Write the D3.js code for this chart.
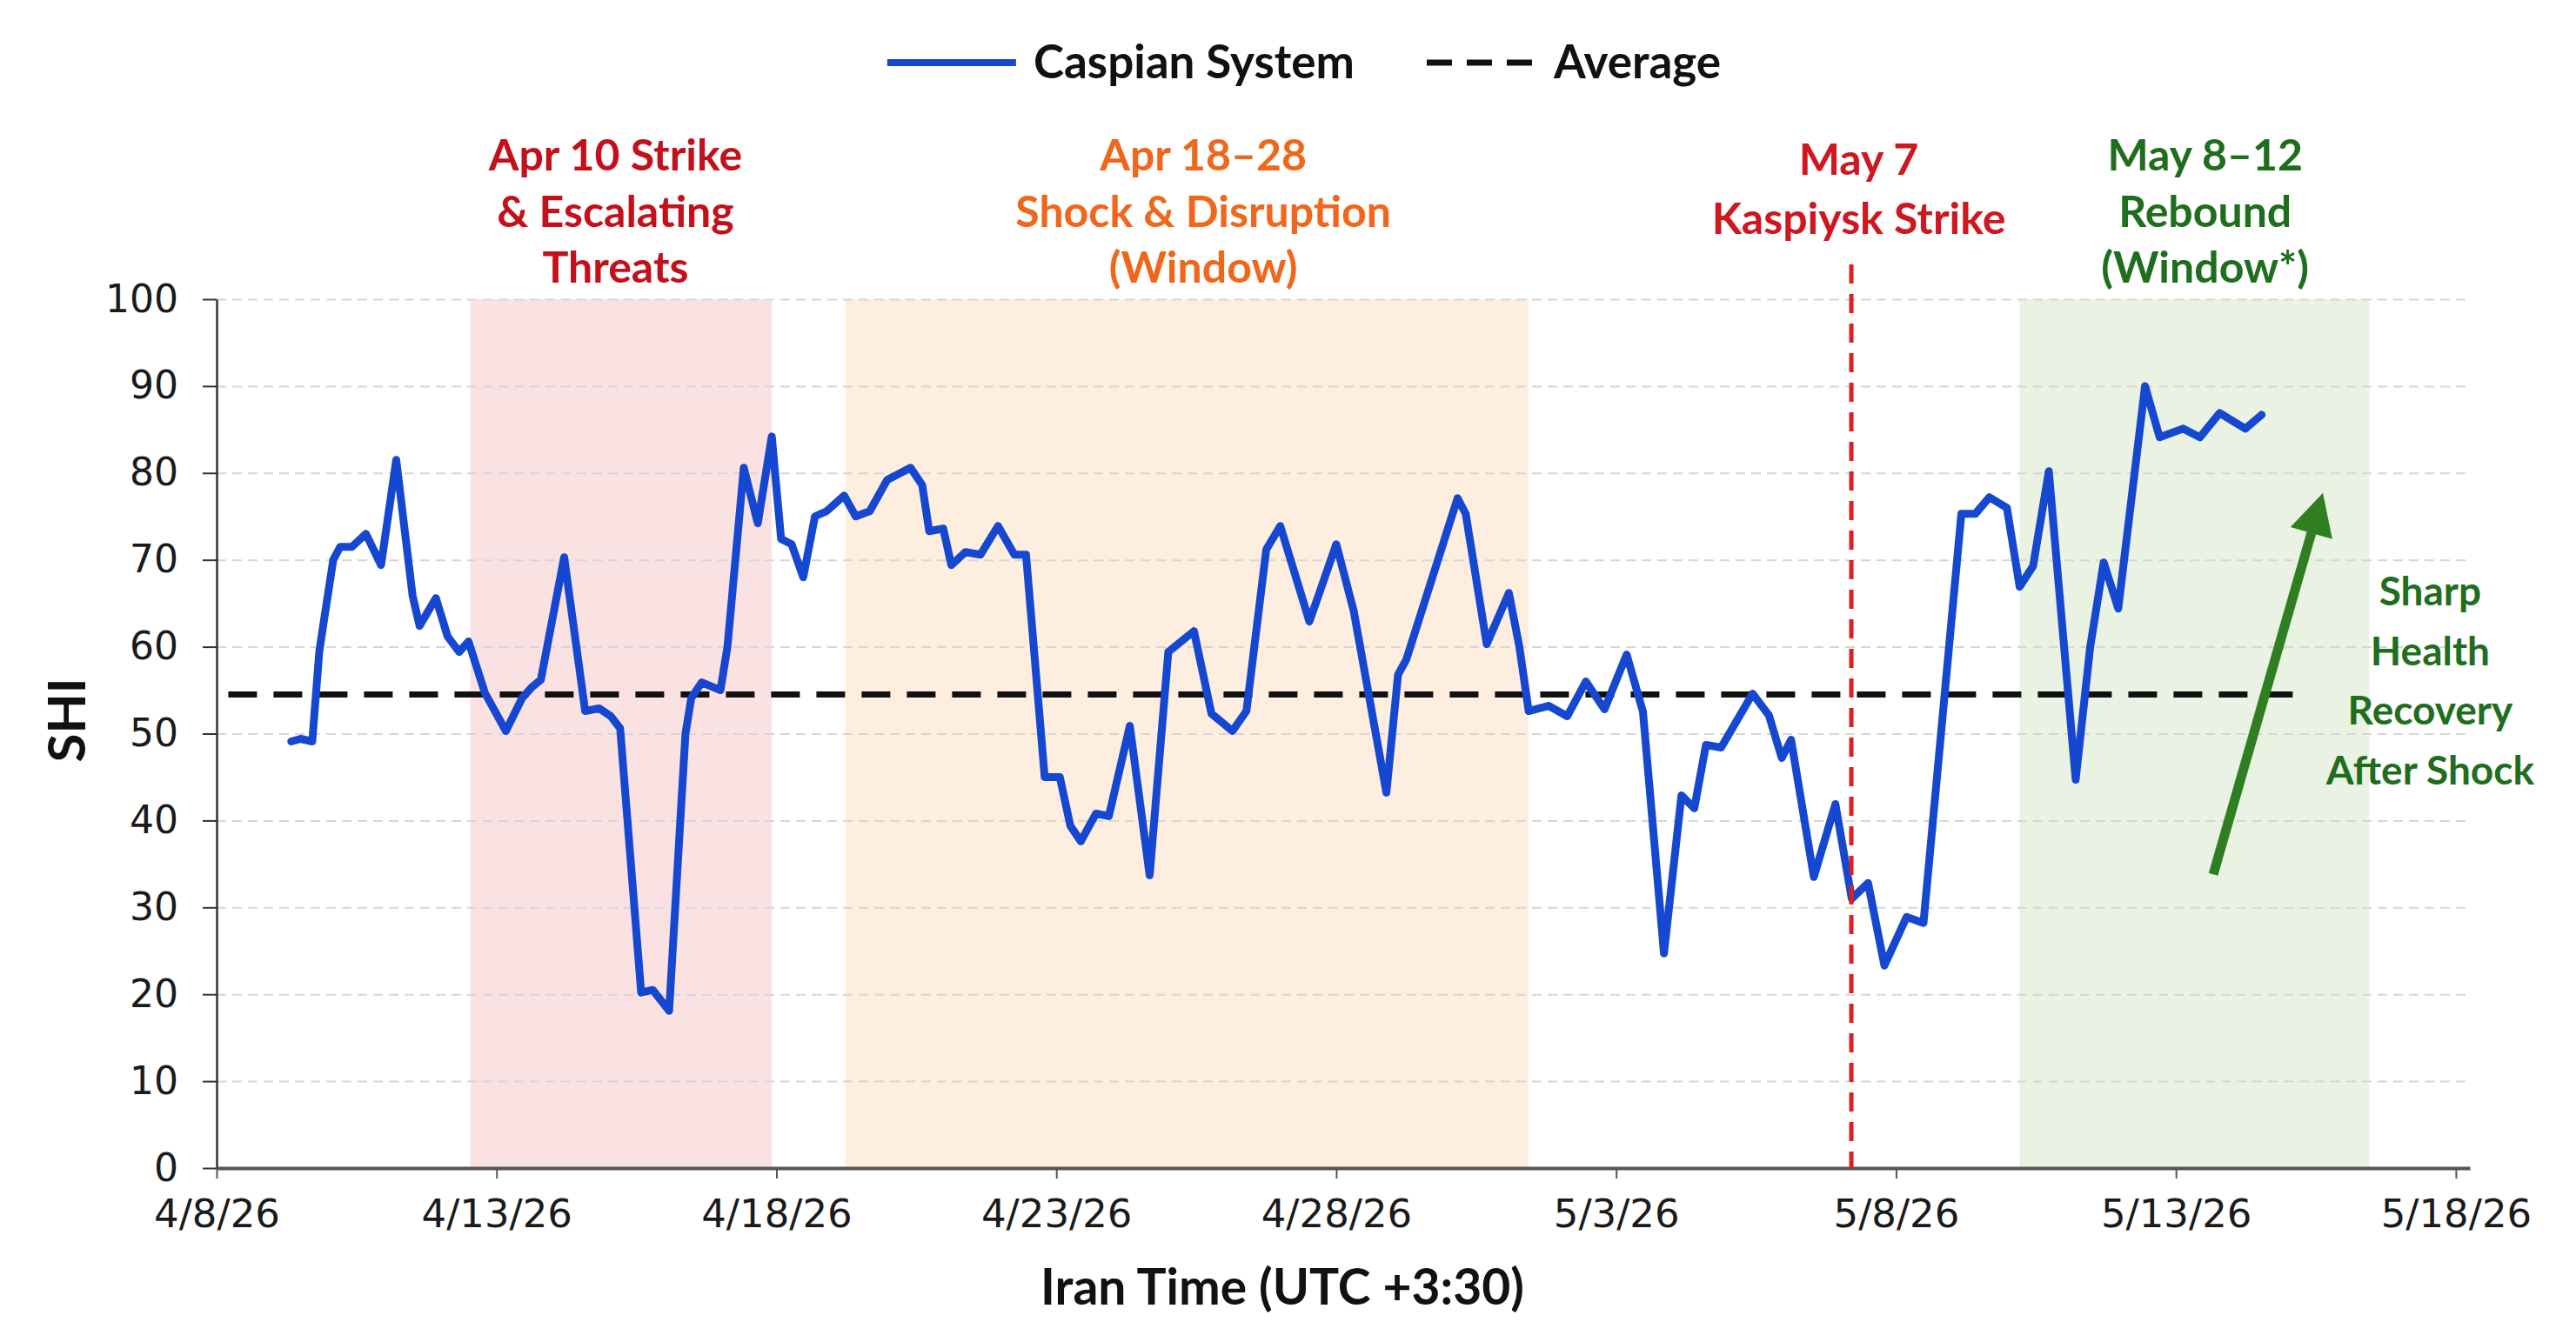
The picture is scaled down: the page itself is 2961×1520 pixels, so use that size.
<!DOCTYPE html>
<html>
<head>
<meta charset="utf-8">
<script src="https://cdn.jsdelivr.net/npm/d3@7"></script>
<style>
  body { margin: 0; background: #fff; }
  text { font-family: Lato, "Open Sans", sans-serif; }
</style>
</head>
<body>
<svg id="chart"></svg>
<script>
// Caspian System health index (SHI), Iran time

// Time of each reading and the SHI value at that time
var times = [
  "2026-04-09T08:00", "2026-04-09T12:00", "2026-04-09T17:00", "2026-04-09T20:00", "2026-04-09T22:00",
  "2026-04-10T02:00", "2026-04-10T05:00", "2026-04-10T10:00", "2026-04-10T16:00", "2026-04-10T22:30",
  "2026-04-11T05:00", "2026-04-11T12:00", "2026-04-11T15:00", "2026-04-11T22:00", "2026-04-12T03:00",
  "2026-04-12T08:00", "2026-04-12T12:00", "2026-04-12T19:00", "2026-04-13T04:00", "2026-04-13T11:00",
  "2026-04-13T15:00", "2026-04-13T19:00", "2026-04-14T05:00", "2026-04-14T14:00", "2026-04-14T20:00",
  "2026-04-15T01:00", "2026-04-15T05:00", "2026-04-15T14:00", "2026-04-15T19:00", "2026-04-16T02:00",
  "2026-04-16T06:00", "2026-04-16T09:00", "2026-04-16T11:30", "2026-04-16T16:00", "2026-04-17T00:00",
  "2026-04-17T03:00", "2026-04-17T10:00", "2026-04-17T16:00", "2026-04-17T22:00", "2026-04-18T02:00",
  "2026-04-18T06:30", "2026-04-18T11:30", "2026-04-18T16:30", "2026-04-18T21:30", "2026-04-19T05:00",
  "2026-04-19T10:00", "2026-04-19T16:00", "2026-04-19T23:30", "2026-04-20T09:30", "2026-04-20T14:30",
  "2026-04-20T17:30", "2026-04-20T23:30", "2026-04-21T03:00", "2026-04-21T09:00", "2026-04-21T15:30",
  "2026-04-21T23:00", "2026-04-22T06:00", "2026-04-22T11:00", "2026-04-22T19:00", "2026-04-23T01:30",
  "2026-04-23T06:00", "2026-04-23T10:30", "2026-04-23T17:00", "2026-04-23T22:30", "2026-04-24T07:30",
  "2026-04-24T16:00", "2026-04-25T00:00", "2026-04-25T11:00", "2026-04-25T18:30", "2026-04-26T03:30",
  "2026-04-26T09:30", "2026-04-26T18:00", "2026-04-27T00:00", "2026-04-27T12:30", "2026-04-28T00:00",
  "2026-04-28T07:30", "2026-04-28T21:30", "2026-04-29T02:30", "2026-04-29T06:00", "2026-04-30T04:00",
  "2026-04-30T07:30", "2026-04-30T16:30", "2026-05-01T02:00", "2026-05-01T06:30", "2026-05-01T10:30",
  "2026-05-01T19:00", "2026-05-02T03:00", "2026-05-02T11:00", "2026-05-02T19:00", "2026-05-03T04:30",
  "2026-05-03T11:30", "2026-05-03T20:30", "2026-05-04T04:00", "2026-05-04T09:30", "2026-05-04T14:30",
  "2026-05-04T21:00", "2026-05-05T10:30", "2026-05-05T17:30", "2026-05-05T23:00", "2026-05-06T03:00",
  "2026-05-06T12:45", "2026-05-06T22:00", "2026-05-07T05:00", "2026-05-07T12:00", "2026-05-07T19:00",
  "2026-05-08T04:30", "2026-05-08T11:45", "2026-05-09T04:00", "2026-05-09T10:00", "2026-05-09T16:00",
  "2026-05-09T23:30", "2026-05-10T05:00", "2026-05-10T10:45", "2026-05-10T17:30", "2026-05-11T05:00",
  "2026-05-11T11:15", "2026-05-11T17:00", "2026-05-11T23:15", "2026-05-12T10:45", "2026-05-12T17:00",
  "2026-05-13T03:00", "2026-05-13T10:15", "2026-05-13T18:45", "2026-05-14T05:45", "2026-05-14T12:45"
];
var shi = [
  49.1, 49.4, 49.1, 59.4, 63.0,
  70.0, 71.5, 71.5, 73.0, 69.4,
  81.5, 65.9, 62.4, 65.6, 61.2,
  59.4, 60.6, 54.7, 50.3, 54.1,
  55.3, 56.2, 70.3, 52.6, 52.9,
  52.0, 50.6, 20.2, 20.5, 18.1,
  36.4, 50.0, 54.1, 55.9, 55.0,
  60.0, 80.6, 74.2, 84.2, 72.4,
  71.8, 68.0, 75.0, 75.6, 77.4,
  75.0, 75.6, 79.2, 80.6, 78.6,
  73.3, 73.6, 69.4, 70.9, 70.6,
  73.9, 70.6, 70.6, 45.0, 45.0,
  39.4, 37.6, 40.8, 40.5, 50.9,
  33.7, 59.4, 61.8, 52.3, 50.3,
  52.6, 71.2, 73.9, 62.9, 71.8,
  64.1, 43.2, 56.8, 58.5, 77.1,
  75.3, 60.3, 66.2, 60.0, 52.6,
  53.2, 52.0, 56.0, 52.8, 59.1,
  52.5, 24.7, 42.9, 41.4, 48.7,
  48.4, 54.6, 52.1, 47.2, 49.3,
  33.5, 41.9, 31.0, 32.8, 23.3,
  28.9, 28.2, 75.3, 75.3, 77.2,
  76.0, 66.9, 69.3, 80.2, 44.7,
  60.0, 69.7, 64.4, 90.0, 84.1,
  85.1, 84.1, 86.9, 85.1, 86.7
];

// Average SHI and the stretch of time its line covers
var average = 54.5;
var averageFrom = "2026-04-08T05:00", averageTo = "2026-05-15T06:00";

// Shaded event windows
var windowStarts = ["2026-04-12T12:45", "2026-04-19T05:30", "2026-05-10T05:00"];
var windowEnds = ["2026-04-17T22:00", "2026-05-01T10:20", "2026-05-16T10:50"];

// Kaspiysk strike marker
var strikeTime = "2026-05-07T04:50";

// Annotation text blocks and the time each one is centred on
var noteLines = [
  ["Apr 10 Strike", "& Escalating", "Threats"],
  ["Apr 18\u201328", "Shock & Disruption", "(Window)"],
  ["May 7", "Kaspiysk Strike"],
  ["May 8\u201312", "Rebound", "(Window*)"]
];
var noteTimes = ["2026-04-15T03:00", "2026-04-25T15:00", "2026-05-07T08:00", "2026-05-13T12:30"];
var sideNote = ["Sharp", "Health", "Recovery", "After Shock"];
var sideNoteTime = "2026-05-17T13:00";

// Recovery arrow, tail and head as (time, SHI)
var arrowTimes = ["2026-05-13T16:00", "2026-05-15T15:00"];
var arrowValues = [33.8, 77.7];

// Axis ticks
var xTickDates = ["2026-04-08", "2026-04-13", "2026-04-18", "2026-04-23", "2026-04-28",
  "2026-05-03", "2026-05-08", "2026-05-13", "2026-05-18"];
var yTicks = [0, 10, 20, 30, 40, 50, 60, 70, 80, 90, 100];

var legendNames = ["Caspian System", "Average"];

// Colours
var lineColor = "#1547d0";
var windowFills = ["#fbe2e2", "#fdeee0", "#eaf3e3"];
var noteColors = ["#c3111c", "#f0661b", "#d0161e", "#1f6e1d"];
var greenText = "#1f6e1d", arrowColor = "#2f7f22", strikeColor = "#e21d1d";

// SVG dimensions and margins
var svgWidth = 2961, svgHeight = 1520;
var margin = {top: 344, right: 122, bottom: 177, left: 249};
var width = svgWidth - margin.left - margin.right;
var height = svgHeight - margin.top - margin.bottom;

var parse = d3.timeParse("%Y-%m-%dT%H:%M");
var parseDay = d3.timeParse("%Y-%m-%d");

var data = times.map(function(t, i) { return {date: parse(t), value: shi[i]}; });

var svg = d3.select("#chart")
  .attr("width", svgWidth)
  .attr("height", svgHeight);

svg.append("rect")
  .attr("width", svgWidth)
  .attr("height", svgHeight)
  .attr("fill", "#fff");

var g = svg.append("g")
  .attr("transform", "translate(" + margin.left + "," + margin.top + ")");

// Scales
var xScale = d3.scaleTime()
  .domain([parseDay("2026-04-08"), parse("2026-05-18T06:00")])
  .range([0, width]);

var yScale = d3.scaleLinear()
  .domain([0, 100])
  .range([height, 0]);

// Shaded windows
g.selectAll(".window")
  .data(windowStarts)
  .enter()
  .append("rect")
  .attr("class", "window")
  .attr("x", function(d) { return xScale(parse(d)); })
  .attr("width", function(d, i) { return xScale(parse(windowEnds[i])) - xScale(parse(d)); })
  .attr("y", yScale(100))
  .attr("height", yScale(0) - yScale(100))
  .attr("fill", function(d, i) { return windowFills[i]; });

// Dashed gridlines
var grid = g.append("g")
  .call(d3.axisLeft(yScale).tickValues(yTicks.slice(1)).tickSize(-width).tickFormat(""));
grid.select(".domain").remove();
grid.selectAll("line")
  .attr("stroke", "#d6d6d6")
  .attr("stroke-width", 2)
  .attr("stroke-dasharray", "11,7");

// Axes
var yAxis = g.append("g")
  .call(d3.axisLeft(yScale).tickValues(yTicks).tickSize(16).tickSizeOuter(0).tickPadding(28));
yAxis.select(".domain").attr("stroke", "#333").attr("stroke-width", 2.5);
yAxis.selectAll(".tick line").attr("stroke", "#333").attr("stroke-width", 2);
yAxis.selectAll(".tick text")
  .style("font-family", "'DejaVu Sans', sans-serif")
  .style("font-size", "44px")
  .attr("fill", "#1a1a1a");

var xAxis = g.append("g")
  .attr("transform", "translate(0," + height + ")")
  .call(d3.axisBottom(xScale)
    .tickValues(xTickDates.map(parseDay))
    .tickFormat(d3.timeFormat("%-m/%-d/%y"))
    .tickSize(12).tickSizeOuter(0).tickPadding(24));
xAxis.select(".domain").attr("stroke", "#555").attr("stroke-width", 4);
xAxis.selectAll(".tick line").attr("stroke", "#555").attr("stroke-width", 2);
xAxis.selectAll(".tick text")
  .style("font-family", "'DejaVu Sans', sans-serif")
  .style("font-size", "45px")
  .attr("fill", "#1a1a1a");

// Average line
g.append("line")
  .attr("x1", xScale(parse(averageFrom)))
  .attr("x2", xScale(parse(averageTo)))
  .attr("y1", yScale(average))
  .attr("y2", yScale(average))
  .attr("stroke", "#111")
  .attr("stroke-width", 7)
  .attr("stroke-dasharray", "33,19");

// SHI line
var line = d3.line()
  .x(function(d) { return xScale(d.date); })
  .y(function(d) { return yScale(d.value); });

g.append("path")
  .datum(data)
  .attr("d", line)
  .attr("fill", "none")
  .attr("stroke", lineColor)
  .attr("stroke-width", 9)
  .attr("stroke-linejoin", "round")
  .attr("stroke-linecap", "round");

// Strike marker, starts a little above the plot top
g.append("line")
  .attr("x1", xScale(parse(strikeTime)))
  .attr("x2", xScale(parse(strikeTime)))
  .attr("y1", yScale(104))
  .attr("y2", yScale(0))
  .attr("stroke", strikeColor)
  .attr("stroke-width", 5)
  .attr("stroke-dasharray", "22,12");

// Recovery arrow
var ax0 = xScale(parse(arrowTimes[0])), ay0 = yScale(arrowValues[0]);
var ax1 = xScale(parse(arrowTimes[1])), ay1 = yScale(arrowValues[1]);
var ang = Math.atan2(ay1 - ay0, ax1 - ax0);
var headLen = 48, headHalf = 25;
var bx = ax1 - headLen * Math.cos(ang), by = ay1 - headLen * Math.sin(ang);

g.append("line")
  .attr("x1", ax0).attr("y1", ay0)
  .attr("x2", bx + 4 * Math.cos(ang)).attr("y2", by + 4 * Math.sin(ang))
  .attr("stroke", arrowColor)
  .attr("stroke-width", 11);

g.append("path")
  .attr("d", "M" + ax1 + "," + ay1 +
    "L" + (bx + headHalf * Math.sin(ang)) + "," + (by - headHalf * Math.cos(ang)) +
    "L" + (bx - headHalf * Math.sin(ang)) + "," + (by + headHalf * Math.cos(ang)) + "Z")
  .attr("fill", arrowColor);

// Annotation blocks above the plot
var noteTop = [196, 196, 201, 196];
var noteStep = [64.5, 64.5, 68, 64.5];
noteLines.forEach(function(lines, i) {
  g.append("text")
    .attr("x", xScale(parse(noteTimes[i])))
    .attr("y", noteTop[i] - margin.top)
    .attr("text-anchor", "middle")
    .attr("font-size", 50)
    .attr("font-weight", 700)
    .attr("fill", noteColors[i])
    .selectAll("tspan")
    .data(lines)
    .enter()
    .append("tspan")
    .attr("x", xScale(parse(noteTimes[i])))
    .attr("dy", function(d, j) { return j === 0 ? 0 : noteStep[i]; })
    .text(function(d) { return d; });
});

// Side note next to the arrow
g.append("text")
  .attr("x", xScale(parse(sideNoteTime)))
  .attr("y", 696 - margin.top)
  .attr("text-anchor", "middle")
  .attr("font-size", 46)
  .attr("font-weight", 700)
  .attr("fill", greenText)
  .selectAll("tspan")
  .data(sideNote)
  .enter()
  .append("tspan")
  .attr("x", xScale(parse(sideNoteTime)))
  .attr("dy", function(d, j) { return j === 0 ? 0 : 68.5; })
  .text(function(d) { return d; });

// Axis titles
svg.append("text")
  .attr("x", 1474)
  .attr("y", 1500)
  .attr("text-anchor", "middle")
  .attr("font-size", 57)
  .attr("font-weight", 700)
  .attr("fill", "#111")
  .text("Iran Time (UTC +3:30)");

svg.append("text")
  .attr("transform", "translate(98,828) rotate(-90)")
  .attr("text-anchor", "middle")
  .attr("font-size", 60)
  .attr("font-weight", 700)
  .attr("fill", "#111")
  .text("SHI");

// Legend
var legend = svg.append("g");
var item1 = legend.append("g");
item1.append("line")
  .attr("x1", 0).attr("x2", 148).attr("y1", 0).attr("y2", 0)
  .attr("stroke", lineColor).attr("stroke-width", 8);
var t1 = item1.append("text")
  .attr("x", 168).attr("y", 18)
  .attr("font-size", 53).attr("font-weight", 700).attr("fill", "#111")
  .text(legendNames[0]);

var item2X = 168 + t1.node().getComputedTextLength() + 83;
var item2 = legend.append("g").attr("transform", "translate(" + item2X + ",0)");
item2.append("line")
  .attr("x1", 0).attr("x2", 121).attr("y1", 0).attr("y2", 0)
  .attr("stroke", "#111").attr("stroke-width", 7).attr("stroke-dasharray", "29,17");
var t2 = item2.append("text")
  .attr("x", 146).attr("y", 18)
  .attr("font-size", 53).attr("font-weight", 700).attr("fill", "#111")
  .text(legendNames[1]);

var legendW = item2X + 146 + t2.node().getComputedTextLength();
legend.attr("transform", "translate(" + (1499 - legendW / 2) + ",72)");
</script>
</body>
</html>
